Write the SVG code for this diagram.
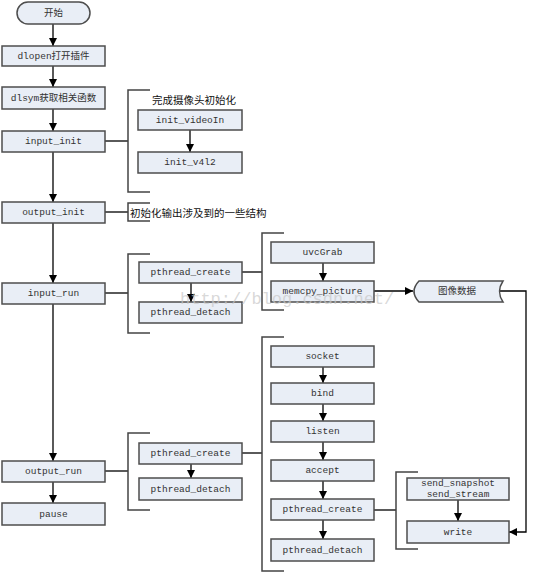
<svg xmlns="http://www.w3.org/2000/svg" width="553" height="573" viewBox="0 0 553 573">
<defs>
<marker id="ah" viewBox="0 0 10 10" refX="10" refY="5" markerWidth="8" markerHeight="8" markerUnits="userSpaceOnUse" orient="auto">
<path d="M0,0 L10,5 L0,10 Z" fill="#000"/>
</marker>
</defs>
<style>
.box{fill:#e9eef6;stroke:#4d4d4d;stroke-width:1.5}
.t{font-family:"Liberation Mono","Noto Sans CJK SC",monospace;font-size:9.5px;fill:#333;text-anchor:middle;dominant-baseline:central}
.a{font-family:"Noto Sans CJK SC",sans-serif;font-size:10.5px;fill:#111;dominant-baseline:central}
.ln{fill:none;stroke:#000;stroke-width:1.3}
.br{fill:none;stroke:#444;stroke-width:1.5}
.wm{font-family:"Liberation Mono",monospace;font-size:17px;fill:#c8c8c8;fill-opacity:0.7}
</style>
<rect width="553" height="573" fill="#fff"/>

<g id="connectors">
<line class="ln" x1="53" y1="24" x2="53" y2="46" marker-end="url(#ah)"/>
<line class="ln" x1="53" y1="66" x2="53" y2="87" marker-end="url(#ah)"/>
<line class="ln" x1="53" y1="109" x2="53" y2="131" marker-end="url(#ah)"/>
<line class="ln" x1="53" y1="152" x2="53" y2="202" marker-end="url(#ah)"/>
<line class="ln" x1="53" y1="223" x2="53" y2="283" marker-end="url(#ah)"/>
<line class="ln" x1="53" y1="304" x2="53" y2="461" marker-end="url(#ah)"/>
<line class="ln" x1="53" y1="482" x2="53" y2="503" marker-end="url(#ah)"/>
<line class="ln" x1="105" y1="141" x2="128" y2="141"/>
<line class="ln" x1="105" y1="212" x2="128" y2="212"/>
<line class="ln" x1="105" y1="293" x2="128" y2="293"/>
<line class="ln" x1="105" y1="471" x2="128" y2="471"/>
<line class="ln" x1="190" y1="130" x2="190" y2="152" marker-end="url(#ah)"/>
<line class="ln" x1="191" y1="283" x2="191" y2="302" marker-end="url(#ah)"/>
<line class="ln" x1="242" y1="272" x2="262" y2="272"/>
<line class="ln" x1="323" y1="263" x2="323" y2="281" marker-end="url(#ah)"/>
<line class="ln" x1="374" y1="291" x2="413" y2="291" marker-end="url(#ah)"/>
<polyline class="ln" points="500,291 526,291 526,532 509,532" marker-end="url(#ah)"/>
<line class="ln" x1="191" y1="464" x2="191" y2="478" marker-end="url(#ah)"/>
<line class="ln" x1="242" y1="453" x2="262" y2="453"/>
<line class="ln" x1="323" y1="367" x2="323" y2="383" marker-end="url(#ah)"/>
<line class="ln" x1="323" y1="404" x2="323" y2="421" marker-end="url(#ah)"/>
<line class="ln" x1="323" y1="442" x2="323" y2="460" marker-end="url(#ah)"/>
<line class="ln" x1="323" y1="481" x2="323" y2="499" marker-end="url(#ah)"/>
<line class="ln" x1="323" y1="520" x2="323" y2="539" marker-end="url(#ah)"/>
<line class="ln" x1="374" y1="510" x2="396" y2="510"/>
<line class="ln" x1="458" y1="500" x2="458" y2="521" marker-end="url(#ah)"/>
</g>

<g id="brackets">
<polyline class="br" points="150,90 128,90 128,192 150,192"/>
<polyline class="br" points="150,203 128,203 128,221 150,221"/>
<polyline class="br" points="150,254 128,254 128,333 150,333"/>
<polyline class="br" points="284,233 262,233 262,310 284,310"/>
<polyline class="br" points="150,433 128,433 128,510 150,510"/>
<polyline class="br" points="284,337 262,337 262,571 284,571"/>
<polyline class="br" points="418,472 396,472 396,549 418,549"/>
</g>

<g id="start"><rect class="box" x="17" y="2" width="73" height="22" rx="11"/><text class="t" x="53.5" y="13">开始</text></g>
<g id="dlopen"><rect class="box" x="2" y="46" width="103" height="20"/><text class="t" x="53.5" y="56">dlopen打开插件</text></g>
<g id="dlsym"><rect class="box" x="2" y="87" width="103" height="22"/><text class="t" x="53.5" y="98">dlsym获取相关函数</text></g>
<g id="input_init"><rect class="box" x="2" y="131" width="103" height="21"/><text class="t" x="53.5" y="141.5">input_init</text></g>
<g id="output_init"><rect class="box" x="2" y="202" width="103" height="21"/><text class="t" x="53.5" y="212.5">output_init</text></g>
<g id="input_run"><rect class="box" x="2" y="283" width="103" height="21"/><text class="t" x="53.5" y="293.5">input_run</text></g>
<g id="output_run"><rect class="box" x="2" y="461" width="103" height="21"/><text class="t" x="53.5" y="471.5">output_run</text></g>
<g id="pause"><rect class="box" x="2" y="503" width="103" height="22"/><text class="t" x="53.5" y="514">pause</text></g>

<g id="note1"><text class="a" x="152" y="99">完成摄像头初始化</text></g>
<g id="init_videoIn"><rect class="box" x="138" y="110" width="104" height="20"/><text class="t" x="190" y="120">init_videoIn</text></g>
<g id="init_v4l2"><rect class="box" x="138" y="152" width="104" height="21"/><text class="t" x="190" y="162.5">init_v4l2</text></g>
<g id="note2"><text class="a" x="130" y="212">初始化输出涉及到的一些结构</text></g>

<g id="pc1"><rect class="box" x="139" y="262" width="103" height="21"/><text class="t" x="190.5" y="272.5">pthread_create</text></g>
<g id="pd1"><rect class="box" x="139" y="302" width="103" height="21"/><text class="t" x="190.5" y="312.5">pthread_detach</text></g>
<g id="uvcGrab"><rect class="box" x="271" y="242" width="103" height="21"/><text class="t" x="322.5" y="252.5">uvcGrab</text></g>
<g id="memcpy"><rect class="box" x="271" y="281" width="103" height="21"/><text class="t" x="322.5" y="291.5">memcpy_picture</text></g>
<g id="imgdata"><path class="box" d="M419,281 L503,281 Q496,291.5 503,302 L419,302 Q409,291.5 419,281 Z"/><text class="t" x="457" y="291.5">图像数据</text></g>

<g id="pc2"><rect class="box" x="139" y="443" width="103" height="21"/><text class="t" x="190.5" y="453.5">pthread_create</text></g>
<g id="pd2"><rect class="box" x="139" y="478" width="103" height="22"/><text class="t" x="190.5" y="489">pthread_detach</text></g>

<g id="socket"><rect class="box" x="271" y="346" width="103" height="21"/><text class="t" x="322.5" y="356.5">socket</text></g>
<g id="bind"><rect class="box" x="271" y="383" width="103" height="21"/><text class="t" x="322.5" y="393.5">bind</text></g>
<g id="listen"><rect class="box" x="271" y="421" width="103" height="21"/><text class="t" x="322.5" y="431.5">listen</text></g>
<g id="accept"><rect class="box" x="271" y="460" width="103" height="21"/><text class="t" x="322.5" y="470.5">accept</text></g>
<g id="pc3"><rect class="box" x="271" y="499" width="103" height="21"/><text class="t" x="322.5" y="509.5">pthread_create</text></g>
<g id="pd3"><rect class="box" x="271" y="539" width="103" height="22"/><text class="t" x="322.5" y="550">pthread_detach</text></g>

<g id="send"><rect class="box" x="407" y="478" width="102" height="22"/><text class="t" x="458" y="483.5">send_snapshot</text><text class="t" x="458" y="494.5">send_stream</text></g>
<g id="write"><rect class="box" x="407" y="521" width="102" height="22"/><text class="t" x="458" y="532">write</text></g>

<text class="wm" x="180" y="304">http://blog.csdn.net/</text>
</svg>
